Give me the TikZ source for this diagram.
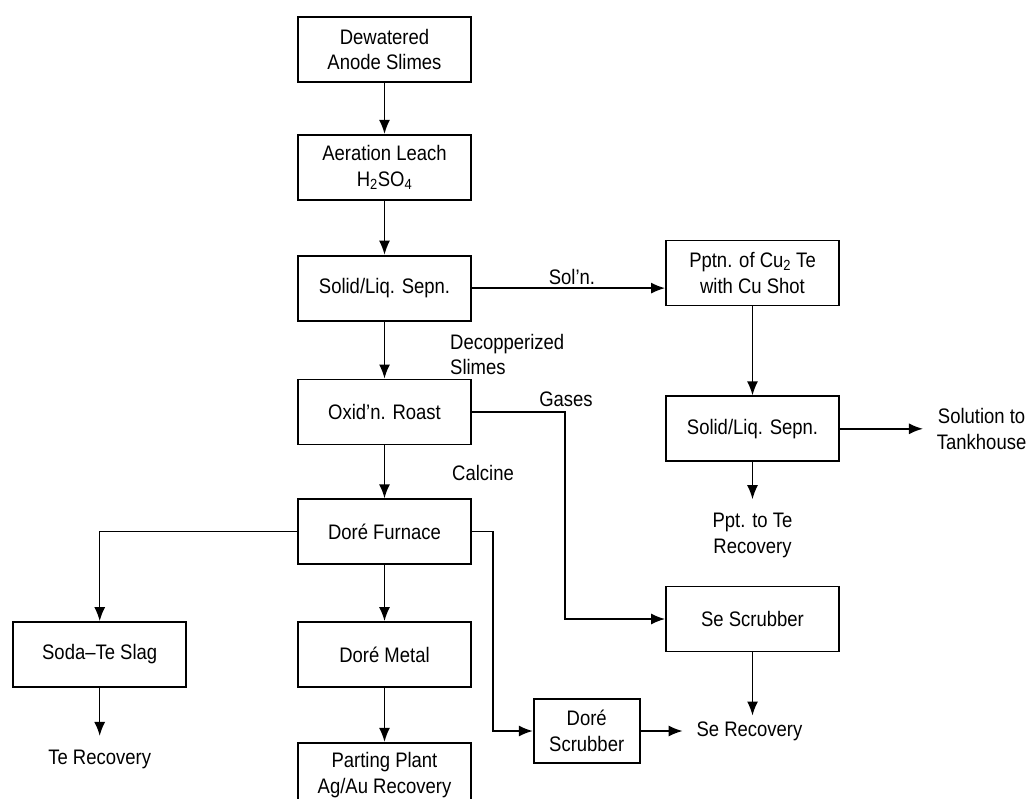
\documentclass[tikz,border=0pt]{standalone}
\usepackage{fontspec}
\setmainfont{Liberation Sans}[FakeStretch=0.88]
\usetikzlibrary{arrows.meta,positioning}

\begin{document}
\begin{tikzpicture}[
x=1pt,y=1pt,
font=\fontsize{21}{25.5}\selectfont,
box/.style={draw,line width=1.8pt,minimum width=173pt,minimum height=65pt,align=center,inner sep=2pt},
sink/.style={align=center,inner sep=2pt,outer sep=12pt},
note/.style={inner sep=0pt,align=left},
arr/.style={-{Latex[length=14pt,width=11pt]},line width=1.5pt}
]
\useasboundingbox (0,0) rectangle (1030,-798);
% main line
\node[box] (dew) at (384.5,-49.5) {Dewatered\\Anode Slimes};
\node[box,below=51pt of dew] (leach) {Aeration Leach\\H\textsubscript{2}SO\textsubscript{4}};
\node[box,below=54pt of leach] (sep1) {Solid/Liq. Sepn.};
\node[box,below=57pt of sep1] (roast) {Oxid'n. Roast};
\node[box,below=53pt of roast] (furn) {Doré Furnace};
\node[box,below=56pt of furn] (metal) {Doré Metal};
\node[box,below=54pt of metal] (part) {Parting Plant\\Ag/Au Recovery};
\node[box,left=110pt of metal] (slag) {Soda–Te Slag};
\node[sink,below=48pt of slag] (terec) {Te Recovery};
% copper/tellurium side
\node[box] (pptn) at (752.5,-273) {Pptn. of Cu\textsubscript{2} Te\\with Cu Shot};
\node[box,below=89pt of pptn] (sep2) {Solid/Liq. Sepn.};
\node[sink,right=83pt of sep2] (tank) {Solution to\\Tankhouse};
\node[sink,below=37pt of sep2] (pptte) {Ppt. to Te\\Recovery};
% selenium side
\node[box] (sescr) at (752.5,-619) {Se Scrubber};
\node[box,minimum width=106pt,minimum height=64pt] (dscr) at (586.7,-731) {Doré\\Scrubber};
\node[sink,right=42pt of dscr] (serec) {Se Recovery};
% stream labels
\node[note] (soln) at (572,-277) {Sol'n.};
\node[note,anchor=north west] (decu) at (450,-334) {Decopperized\\Slimes};
\node[note] (gas) at (566,-399) {Gases};
\node[note,anchor=west] (calc) at (452,-473) {Calcine};
% flows
\draw[arr] (dew) -- (leach);
\draw[arr] (leach) -- (sep1);
\draw[arr] (sep1) -- (roast);
\draw[arr] (roast) -- (furn);
\draw[arr] (furn) -- (metal);
\draw[arr] (metal) -- (part);
\draw[arr] (furn.west) -| (slag.north);
\draw[arr] (slag) -- (terec);
\draw[arr] (sep1.east) -- (sep1.east -| pptn.west);
\draw[arr] (pptn) -- (sep2);
\draw[arr] (sep2) -- (tank);
\draw[arr] (sep2) -- (pptte);
\draw[arr] (roast.east) -- ++(93,0) |- (sescr.west);
\draw[arr] (furn.east) -- ++(21,0) |- (dscr.west);
\draw[arr] (dscr) -- (serec);
\draw[arr,shorten >=-8pt] (sescr.south) -- (sescr.south |- serec.north);
\end{tikzpicture}
\end{document}
